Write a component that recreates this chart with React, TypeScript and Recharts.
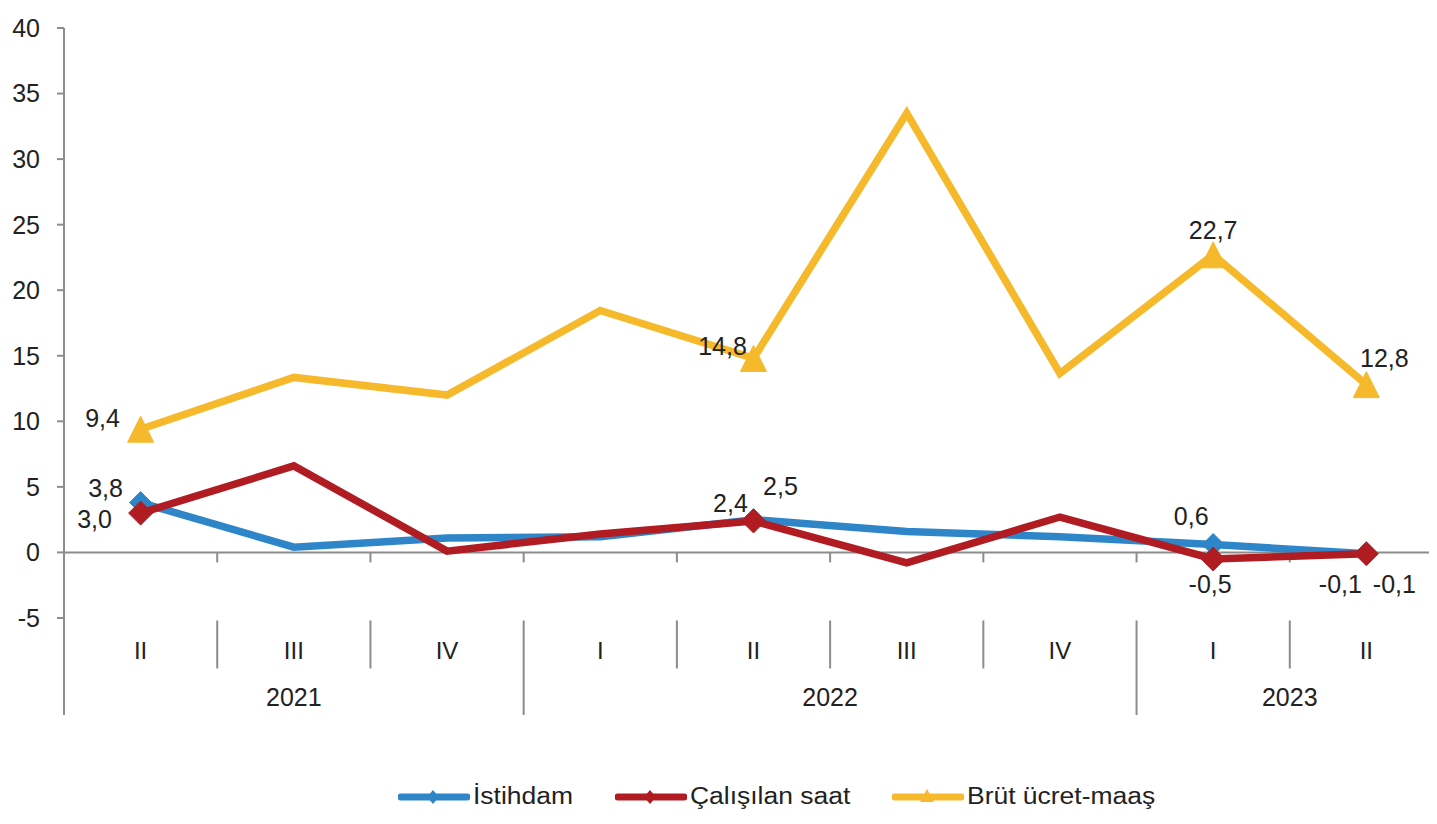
import React from "react";
import {
  LineChart,
  Line,
  XAxis,
  YAxis,
  ReferenceLine,
  Legend,
} from "recharts";

// ---------- data ----------
const quarters = ["II", "III", "IV", "I", "II", "III", "IV", "I", "II"];
const years = ["2021", "2021", "2021", "2022", "2022", "2022", "2022", "2023", "2023"];

const istihdam = [3.8, 0.4, 1.1, 1.2, 2.5, 1.6, 1.2, 0.6, -0.1];
const calisilanSaat = [3.0, 6.6, 0.1, 1.4, 2.4, -0.8, 2.7, -0.5, -0.1];
const brutUcret = [9.4, 13.35, 12.0, 18.45, 14.8, 33.5, 13.65, 22.7, 12.8];

const yTicks = [-5, 0, 5, 10, 15, 20, 25, 30, 35, 40];
const markedIdx = [0, 4, 7, 8];

const data = quarters.map((q, i) => ({
  idx: i,
  quarter: q,
  year: years[i],
  istihdam: istihdam[i],
  saat: calisilanSaat[i],
  brut: brutUcret[i],
}));

// year groups: label sits in the middle of its quarters
const yearGroups = Array.from(new Set(years)).map((yr) => {
  const first = years.indexOf(yr);
  const last = years.lastIndexOf(yr);
  return { yr, mid: (first + last) / 2 };
});

// ---------- styling ----------
const BLUE = "#2E86C8";
const RED = "#B01C22";
const YELLOW = "#F6B92B";
const AXIS = "#8C8C8C";
const TEXT = "#222222";
const FONT = "'Liberation Sans', Arial, sans-serif";

const Y_MIN = -12.4;
const SEP_TOP = -5.19;
const SEP_QUARTER = -8.85;

// label offsets (text centre relative to the point), per series / index
const labelPos: Record<string, Record<number, [number, number]>> = {
  istihdam: { 0: [-35, -15], 4: [27, -34], 7: [-22, -29], 8: [28, 30] },
  saat: { 0: [-46, 6], 4: [-23, -18], 7: [-3, 25], 8: [-26, 30] },
  brut: { 0: [-38, -11], 4: [-31, -12], 7: [0, -25], 8: [18, -27] },
};

const fmt = (v: number) => v.toFixed(1).replace(".", ",");

const makeLabel = (series: string) => (props: any) => {
  const { x, y, index, value } = props;
  const pos = labelPos[series][index];
  if (!pos) return <g key={`${series}-l-${index}`} />;
  return (
    <text
      key={`${series}-l-${index}`}
      x={x + pos[0]}
      y={y + pos[1] + 9}
      textAnchor="middle"
      fontSize={25}
      fontFamily={FONT}
      fill={TEXT}
    >
      {fmt(value)}
    </text>
  );
};

const makeDot = (series: string, color: string, shape: "diamond" | "triangle", r: number) =>
  (props: any) => {
    const { cx, cy, index } = props;
    if (!markedIdx.includes(index) || cx == null || cy == null)
      return <g key={`${series}-d-${index}`} />;
    const pts =
      shape === "diamond"
        ? `${cx},${cy - r} ${cx + r},${cy} ${cx},${cy + r} ${cx - r},${cy}`
        : `${cx},${cy - r} ${cx + r},${cy + r} ${cx - r},${cy + r}`;
    return <polygon key={`${series}-d-${index}`} points={pts} fill={color} stroke={color} strokeWidth={1} />;
  };

const QuarterTick = (props: any) => {
  const { x, y, payload } = props;
  return (
    <text x={x} y={y - 56} textAnchor="middle" fontSize={24} fontFamily={FONT} fill={TEXT}>
      {quarters[payload.value]}
    </text>
  );
};

const YearTick = (props: any) => {
  const { x, y, index } = props;
  return (
    <text x={x} y={y - 21} textAnchor="middle" fontSize={25} fontFamily={FONT} fill={TEXT}>
      {yearGroups[index]?.yr}
    </text>
  );
};

const series = [
  { name: "İstihdam", color: BLUE, shape: "diamond" },
  { name: "Çalışılan saat", color: RED, shape: "diamond" },
  { name: "Brüt ücret-maaş", color: YELLOW, shape: "triangle" },
];
const legendLeft = [398, 615, 892];

const LegendContent = () => (
  <div style={{ position: "relative", width: 1437, height: 30, fontFamily: FONT }}>
    {series.map((s, i) => (
      <div key={s.name} style={{ position: "absolute", left: legendLeft[i], top: 0, height: 30 }}>
        <svg width={72} height={30} style={{ position: "absolute", left: 0, top: 0 }}>
          <line x1={3} y1={14} x2={69} y2={14} stroke={s.color} strokeWidth={7} strokeLinecap="round" />
          {s.shape === "diamond" ? (
            <polygon points="35,7 41,14 35,21 29,14" fill={s.color} />
          ) : (
            <polygon points="35,6 42,19 28,19" fill={s.color} />
          )}
        </svg>
        <span
          style={{
            position: "absolute",
            left: 75,
            top: 0,
            fontSize: 23,
            color: TEXT,
            whiteSpace: "nowrap",
            display: "inline-block",
            transform: "scaleX(1.15)",
            transformOrigin: "left center",
          }}
        >
          {s.name}
        </span>
      </div>
    ))}
  </div>
);

const xDomain: [number, number] = [-0.5, quarters.length - 0.5];
const boundaries = data.slice(1);

export default function App() {
  return (
    <div
      style={{
        margin: -8,
        width: 1437,
        height: 824,
        overflow: "hidden",
        position: "relative",
        background: "#fff",
        fontFamily: FONT,
      }}
    >
      <LineChart
        width={1450}
        height={824}
        data={data}
        margin={{ top: 28, right: 7, left: 10, bottom: 84 }}
      >
        <XAxis
          xAxisId="q"
          dataKey="idx"
          type="number"
          domain={xDomain}
          ticks={data.map((d) => d.idx)}
          axisLine={false}
          tickLine={false}
          tickSize={0}
          tickMargin={0}
          interval={0}
          height={12}
          tick={<QuarterTick />}
        />
        <XAxis
          xAxisId="y"
          dataKey="idx"
          type="number"
          domain={xDomain}
          ticks={yearGroups.map((g) => g.mid)}
          axisLine={false}
          tickLine={false}
          tickSize={0}
          tickMargin={0}
          interval={0}
          height={13}
          tick={<YearTick />}
        />
        <YAxis
          domain={[Y_MIN, 40]}
          ticks={yTicks}
          width={54}
          tickSize={7}
          tickMargin={17}
          axisLine={{ stroke: AXIS, strokeWidth: 2 }}
          tickLine={{ stroke: AXIS, strokeWidth: 2 }}
          tick={{ fontSize: 25, fill: TEXT, fontFamily: FONT }}
          allowDataOverflow
        />
        <ReferenceLine xAxisId="q" y={0} stroke={AXIS} strokeWidth={2} />
        {boundaries.map((d) => (
          <ReferenceLine
            key={`zt-${d.idx}`}
            xAxisId="q"
            segment={[
              { x: d.idx - 0.5, y: 0 },
              { x: d.idx - 0.5, y: -0.76 },
            ]}
            stroke={AXIS}
            strokeWidth={2}
          />
        ))}
        {boundaries.map((d) => {
          const yearBreak = d.year !== years[d.idx - 1];
          return (
            <ReferenceLine
              key={`sep-${d.idx}`}
              xAxisId="q"
              segment={[
                { x: d.idx - 0.5, y: SEP_TOP },
                { x: d.idx - 0.5, y: yearBreak ? Y_MIN : SEP_QUARTER },
              ]}
              stroke={AXIS}
              strokeWidth={2}
            />
          );
        })}
        <Line
          xAxisId="q"
          dataKey="istihdam"
          name="İstihdam"
          stroke={BLUE}
          strokeWidth={7.5}
          type="linear"
          isAnimationActive={false}
          dot={makeDot("istihdam", BLUE, "diamond", 11)}
          activeDot={false}
          label={makeLabel("istihdam")}
        />
        <Line
          xAxisId="q"
          dataKey="saat"
          name="Çalışılan saat"
          stroke={RED}
          strokeWidth={7.5}
          type="linear"
          isAnimationActive={false}
          dot={makeDot("saat", RED, "diamond", 12)}
          activeDot={false}
          label={makeLabel("saat")}
        />
        <Line
          xAxisId="q"
          dataKey="brut"
          name="Brüt ücret-maaş"
          stroke={YELLOW}
          strokeWidth={7.5}
          type="linear"
          isAnimationActive={false}
          dot={makeDot("brut", YELLOW, "triangle", 13)}
          activeDot={false}
          label={makeLabel("brut")}
        />
        <Legend
          layout="horizontal"
          verticalAlign="middle"
          align="center"
          content={<LegendContent />}
          wrapperStyle={{ position: "absolute", top: 783, left: 0, width: 1437, height: 30 }}
        />
      </LineChart>
    </div>
  );
}
